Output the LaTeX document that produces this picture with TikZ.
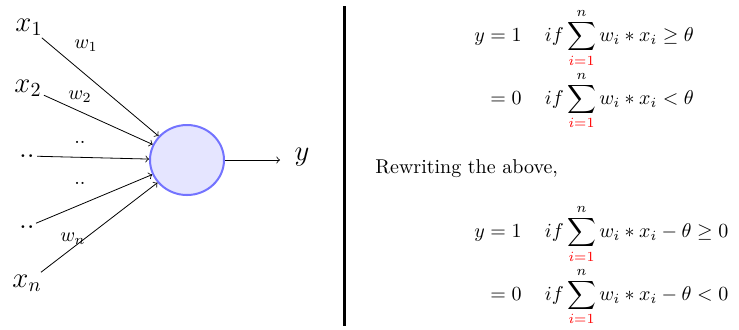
\documentclass[tikz,border=0pt]{standalone}
\usepackage{amsmath}
\usepackage{amssymb}
\usepackage{tikz}
\usetikzlibrary{arrows,shapes.geometric}

\begin{document}
\begin{tikzpicture}[x=0.5pt,y=-0.5pt]
\tikzstyle{inp}= [inner sep=1pt, font=\Large]
\tikzstyle{wt}= [inner sep=0pt]
\tikzstyle{cell}= [ellipse, draw=blue!55, fill=blue!10, line width=1pt, minimum width=37pt, minimum height=35pt]
\tikzstyle{syn}= [->, line width=0.4pt]
\useasboundingbox (0,0) rectangle (739,329);
%neuron
\node[cell] (neuron) at (187,160) {};
%inputs
\node[inp] (x1) at (29,27) {$x_1$};
\node[inp] (x2) at (28,88) {$x_2$};
\node[inp] (d1) at (27,156) {$..$};
\node[inp] (d2) at (27,227) {$..$};
\node[inp] (xn) at (27,283) {$x_n$};
%weights
\node[wt] (w1) at (86,46) {$w_1$};
\node[wt] (w2) at (80,97) {$w_2$};
\node[wt] (wa) at (80,142) {$..$};
\node[wt] (wb) at (80,183) {$..$};
\node[wt] (wn) at (73,239) {$w_n$};
\draw[syn] (x1) -- (neuron);
\draw[syn] (x2) -- (neuron);
\draw[syn] (d1) -- (neuron);
\draw[syn] (d2) -- (neuron);
\draw[syn] (xn) -- (neuron);
%output
\coordinate (out) at (280,160);
\node[inp] (y) at (302,157) {$y$};
\draw[syn] (neuron) -- (out);
%separator
\coordinate (top) at (344,6);
\coordinate (bot) at (344,326);
\draw[line width=1.5pt] (top) -- (bot);
%rules
\node[inner sep=0pt, anchor=north west] (r1) at (474,8) {$\begin{aligned}
y &= 1 \quad\, if \sum\limits_{\textcolor{red}{i=1}}^{n} w_i * x_i \geq \theta\\[-2pt]
&= 0 \quad\, if \sum\limits_{\textcolor{red}{i=1}}^{n} w_i * x_i < \theta
\end{aligned}$};
\node[inner sep=0pt, anchor=base west] (txt) at (375,173) {Rewriting the above,};
\node[inner sep=0pt, anchor=north west] (r2) at (474,204) {$\begin{aligned}
y &= 1 \quad\, if \sum\limits_{\textcolor{red}{i=1}}^{n} w_i * x_i - \theta \geq 0\\[-2pt]
&= 0 \quad\, if \sum\limits_{\textcolor{red}{i=1}}^{n} w_i * x_i - \theta < 0
\end{aligned}$};
\end{tikzpicture}
\end{document}
